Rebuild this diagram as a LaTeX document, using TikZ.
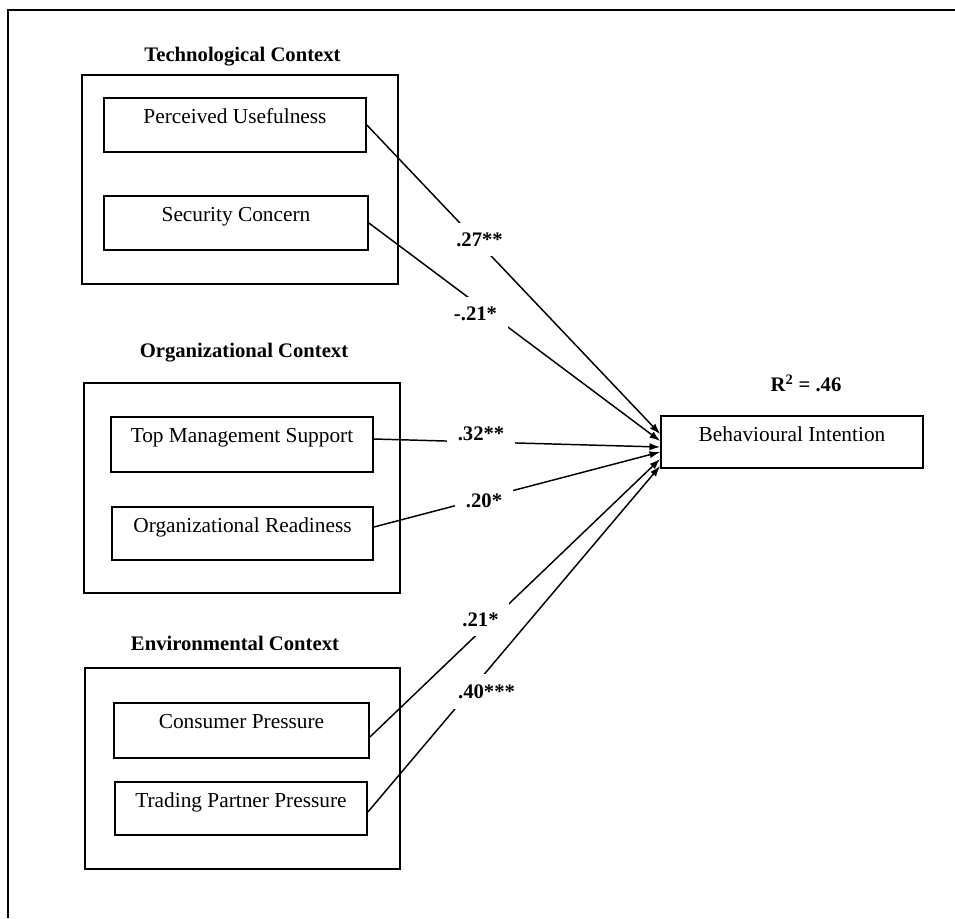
\documentclass[tikz,border=0pt]{standalone}
\usepackage{fontspec}
\setmainfont{Liberation Serif}
\usetikzlibrary{arrows.meta,calc}

\begin{document}
\begin{tikzpicture}[
  x=0.75pt, y=-0.75pt,
  group/.style={draw, line width=1.3pt, inner sep=0pt},
  item/.style={draw, line width=1.3pt, inner xsep=0pt, inner ysep=0pt,
    text height=18.75pt, font=\fontsize{16}{19}\selectfont},
  heading/.style={font=\bfseries\fontsize{15.5}{18}\selectfont, anchor=base, inner sep=0pt},
  coef/.style={font=\bfseries\fontsize{15.5}{18}\selectfont, anchor=base,
    fill=white, inner xsep=8pt, inner ysep=7pt},
  link/.style={line width=1.1pt, -{Latex[length=8pt,width=5.5pt]}}
]
\useasboundingbox (0,0) rectangle (955,918);

% outer frame (only top and left edges fall inside the page)
\draw[line width=1.4pt] (8,918) -- (8,10) -- (955,10);

% context groups
\node[heading] (techtitle) at (242.5,61) {Technological Context};
\node[group, minimum width=237pt, minimum height=156.75pt] (tech) at (240,179.5) {};
\node[item, minimum width=196.5pt, text depth=21.75pt] (pu) at (235,125) {Perceived Usefulness};
\node[item, minimum width=198pt, text depth=21.75pt] (sc) at (236,223) {Security Concern};

\node[heading] (orgtitle) at (244,357) {Organizational Context};
\node[group, minimum width=237pt, minimum height=157.5pt] (org) at (242,488) {};
\node[item, minimum width=196.5pt, text depth=22.5pt] (tms) at (242,444.5) {Top Management Support};
\node[item, minimum width=195.75pt, text depth=21pt] (ordy) at (242.5,533.5) {Organizational Readiness};

\node[heading] (envtitle) at (235,650) {Environmental Context};
\node[group, minimum width=236.25pt, minimum height=150.75pt] (env) at (242.5,768.5) {};
\node[item, minimum width=191.25pt, text depth=22.5pt] (cp) at (241.5,730.5) {Consumer Pressure};
\node[item, minimum width=189pt, text depth=21pt] (tpp) at (241,808.5) {Trading Partner Pressure};

% outcome
\node[heading] (r2) at (806,391) {R\textsuperscript{2} = .46};
\node[item, minimum width=196.5pt, text depth=20.25pt] (bi) at (792,442) {Behavioural Intention};

% paths
\draw[link] (pu.east) -- ($(bi.west)+(0,-8)$);
\draw[link] (sc.east) -- ($(bi.west)+(0,-1)$);
\draw[link] ($(tms.east)+(0,-5.5)$) -- ($(bi.west)+(0,5)$);
\draw[link] ($(ordy.east)+(0,-6.5)$) -- ($(bi.west)+(0,10)$);
\draw[link] ($(cp.east)+(0,6.5)$) -- ($(bi.west)+(0,17)$);
\draw[link] ($(tpp.east)+(0,3.5)$) -- ($(bi.west)+(0,24)$);

% path coefficients
\node[coef] (c1) at (479.5,246) {.27**};
\node[coef] (c2) at (475.5,320) {-.21*};
\node[coef] (c3) at (481,440) {.32**};
\node[coef] (c4) at (484,507) {.20*};
\node[coef] (c5) at (480.5,626) {.21*};
\node[coef, inner ysep=8pt] (c6) at (486.5,698) {.40***};
\end{tikzpicture}
\end{document}
